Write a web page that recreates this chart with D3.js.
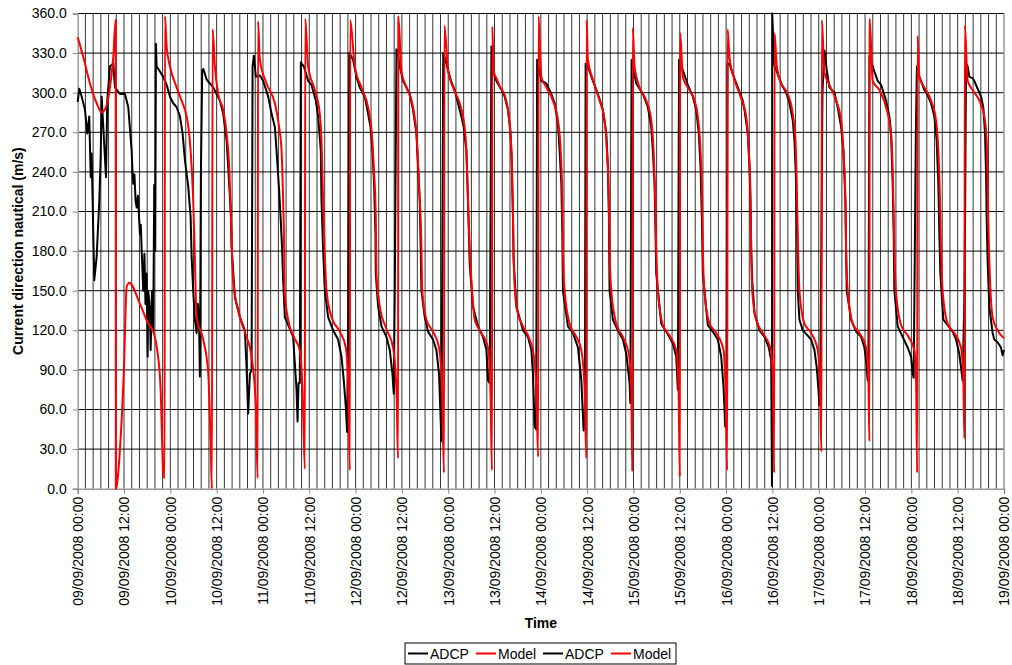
<!DOCTYPE html>
<html lang="en">
<head>
<meta charset="UTF-8">
<title>Current direction: ADCP vs Model</title>
<script src="https://d3js.org/d3.v7.min.js"></script>
<style>
  body { margin: 0; background: #fff; }
  svg { display: block; font-family: "Liberation Sans", Arial, sans-serif; }
  .axis text { font-size: 14px; fill: #000; }
</style>
</head>
<body>
<svg id="chart" width="1012" height="665"></svg>
<script>
// time is given in hours after 09/09/2008 00:00
const startDay = Date.UTC(2008, 8, 9);
const spanHours = 240;
const yTicks = d3.range(0, 361, 30);
const seriesNames = ["ADCP", "Model", "ADCP", "Model"];
const seriesColors = ["#000000", "#ff0000", "#000000", "#ff0000"];

// ADCP measured direction [hour, degrees]
const adcp = [[0,293],[0.41,303],[1.04,297],[1.89,287],[2.49,269],[3.00,282],[3.37,236],[3.62,254],[4.04,193],[4.30,158],[4.92,176],[5.59,218],[5.95,251],[6.21,297],[6.81,264],[7.33,236],[7.66,294],[8.36,320],[9.22,322],[9.66,304],[10.95,299],[12.25,299],[13.10,289],[13.98,256],[14.20,240],[14.39,231],[14.70,238],[15.00,218],[15.28,213],[15.60,222],[16.13,193],[16.35,200],[16.57,181],[16.98,150],[17.29,178],[17.55,140],[17.86,163],[18.12,100],[18.28,150],[18.72,135],[18.90,105],[19.24,150],[19.57,120],[19.83,230],[20.09,180],[20.27,337],[20.45,320],[21.31,316],[22.16,312],[23.04,306],[23.90,297],[24.75,292],[25.63,289],[26.49,282],[27.18,269],[27.78,249],[28.63,229],[29.26,206],[29.51,176],[29.93,150],[30.37,128],[30.81,118],[31.14,140],[31.48,120],[31.66,85],[31.92,239],[32.26,317],[32.57,318],[33.40,310],[35.11,304],[35.99,299],[36.84,294],[37.70,284],[38.58,264],[38.99,244],[39.69,208],[39.87,183],[40.73,145],[42.02,130],[43.31,120],[43.75,92],[44.17,57],[44.61,87],[45.05,90],[45.31,320],[45.65,328],[46.16,312],[47.20,313],[48.05,309],[49.35,297],[50.23,284],[51.08,274],[51.52,256],[52.19,226],[52.56,206],[52.97,181],[53.23,158],[53.67,130],[54.96,121],[55.82,115],[56.26,95],[56.70,75],[56.96,51],[57.22,80],[57.55,80],[57.81,323],[57.99,322],[58.59,320],[59.70,309],[60.58,306],[61.70,294],[62.29,282],[62.99,256],[63.17,218],[63.59,181],[64.03,150],[64.88,130],[66.18,120],[67.47,113],[68.35,100],[68.94,82],[69.46,62],[69.80,43],[70.06,120],[70.37,330],[71.35,325],[72.23,312],[73.09,304],[74.38,297],[75.24,284],[75.86,274],[76.38,256],[76.79,231],[77.15,193],[77.23,163],[77.83,138],[78.71,123],[80.00,115],[80.86,105],[81.55,87],[81.89,72],[82.15,150],[82.59,333],[82.75,332],[83.44,320],[84.30,309],[85.18,304],[86.03,299],[86.89,287],[87.77,269],[88.18,244],[88.62,218],[88.88,181],[89.06,150],[89.92,130],[90.77,119],[92.06,113],[92.94,105],[93.62,87],[94.24,36],[94.71,330],[95.54,322],[95.95,317],[96.83,308],[97.68,302],[98.54,292],[99.42,282],[100.01,274],[100.71,256],[101.13,218],[101.57,170],[102.42,138],[103.72,123],[105.01,115],[105.90,105],[106.31,82],[106.75,80],[107.19,335],[107.53,318],[108.04,312],[108.82,307],[109.85,302],[110.63,297],[111.48,287],[112.10,272],[112.44,250],[112.78,206],[112.96,173],[113.66,138],[115.37,120],[116.66,115],[117.54,105],[117.95,87],[118.39,47],[118.78,45],[119.04,325],[120.13,309],[121.42,307],[122.72,299],[123.57,292],[124.43,277],[124.87,256],[125.31,231],[125.57,193],[125.72,150],[127.02,123],[128.31,118],[129.61,107],[130.49,82],[131.08,44],[131.42,60],[131.60,322],[132.19,320],[133.49,309],[134.78,299],[136.08,287],[136.96,269],[137.37,244],[137.63,206],[137.81,150],[138.67,128],[139.96,120],[141.26,113],[142.14,102],[143.00,80],[143.18,65],[143.51,325],[144.73,307],[146.44,299],[147.73,289],[148.61,274],[149.02,256],[149.46,231],[149.72,193],[149.90,163],[151.20,125],[152.49,119],[154.21,110],[155.08,100],[155.50,75],[155.81,325],[156.79,317],[158.08,306],[159.38,297],[160.26,287],[160.93,269],[161.37,244],[161.71,206],[161.97,163],[163.26,124],[164.56,119],[165.85,113],[166.73,100],[167.33,77],[167.77,47],[168.10,60],[168.36,322],[168.88,322],[169.73,314],[171.03,304],[172.32,294],[172.76,287],[173.62,269],[174.06,244],[174.32,218],[174.50,181],[174.76,158],[175.35,133],[176.65,120],[177.94,115],[179.06,107],[179.68,97],[179.88,2],[179.94,360],[180.53,320],[181.13,316],[182.27,307],[183.57,300],[184.42,292],[185.27,279],[185.71,264],[186.15,231],[186.41,193],[186.56,150],[187.00,128],[187.86,120],[189.15,116],[190.03,113],[190.89,105],[191.48,92],[191.92,75],[192.18,63],[192.44,90],[192.96,300],[193.48,332],[194.08,317],[194.77,304],[196.07,300],[196.92,289],[197.80,274],[198.39,256],[198.91,218],[199.09,181],[199.25,150],[200.39,128],[201.68,119],[202.98,115],[203.83,107],[204.27,97],[204.68,82],[204.87,90],[205.13,328],[205.98,320],[206.42,316],[207.28,309],[208.16,306],[209.45,294],[210.31,282],[210.75,269],[211.16,231],[211.42,193],[211.60,150],[212.45,123],[213.75,115],[215.04,107],[215.92,100],[216.34,87],[216.60,84],[217.17,271],[217.43,320],[218.07,312],[218.51,309],[219.37,302],[220.22,298],[221.10,292],[221.95,282],[222.55,264],[222.99,231],[223.25,193],[223.51,163],[224.29,128],[225.40,124],[226.70,119],[227.58,113],[228.43,102],[228.87,92],[229.28,82],[229.72,143],[229.93,210],[230.16,322],[230.58,320],[231.02,312],[231.87,311],[232.31,309],[233.17,303],[234.05,297],[234.64,289],[235.09,269],[235.35,239],[235.50,206],[235.75,173],[236.19,138],[237.05,118],[237.49,113],[238.34,111],[239.22,107],[239.63,101],[240,105]];

// model direction [hour, degrees]
const model = [[0,342],[1.45,327],[3.18,307],[4.92,292],[6.21,285],[7.33,289],[8.36,304],[9.22,327],[9.84,355],[9.88,0],[10.10,2],[10.95,30],[11.99,92],[12.69,153],[13.36,156],[16.13,140],[18.28,125],[19.57,119],[20.61,105],[21.49,75],[22.16,12],[22.52,8],[22.60,358],[23.04,335],[23.90,320],[25.63,304],[26.93,294],[28.22,282],[28.89,269],[29.51,244],[29.93,218],[30.24,188],[30.81,130],[32.52,113],[33.81,88],[34.43,37],[34.77,0],[34.95,348],[35.55,320],[36.40,299],[37.70,287],[38.58,269],[39.25,244],[39.69,206],[40.28,158],[42.02,130],[43.75,115],[45.05,100],[46.16,62],[46.62,8],[46.72,354],[47.20,325],[48.93,307],[51.08,292],[52.19,274],[52.82,256],[53.23,218],[53.49,181],[53.60,150],[54.52,128],[55.82,116],[57.55,105],[58.25,75],[58.85,15],[58.95,356],[59.70,320],[61.44,302],[62.73,284],[63.17,264],[63.59,218],[64.03,177],[64.47,150],[65.76,130],[67.91,119],[69.46,107],[70.06,82],[70.50,14],[70.60,355],[71.79,320],[73.53,304],[75.24,289],[76.12,272],[76.71,244],[77.23,206],[77.41,163],[78.27,138],[80.00,121],[81.71,107],[82.59,75],[83.00,23],[83.08,358],[83.88,316],[85.18,304],[86.89,289],[87.77,269],[88.44,231],[89.06,183],[89.27,150],[90.36,128],[92.06,119],[93.62,107],[94.40,75],[94.91,12],[95.00,351],[95.95,317],[97.24,304],[98.98,292],[100.01,279],[100.71,256],[101.13,218],[101.57,181],[102.01,158],[102.86,128],[104.60,118],[106.31,107],[106.93,75],[107.34,14],[107.42,350],[107.78,316],[108.48,311],[109.33,305],[110.63,298],[111.48,287],[112.10,269],[112.52,244],[112.78,206],[112.91,178],[113.66,138],[115.37,123],[117.10,113],[118.21,100],[118.83,75],[119.30,24],[119.40,358],[120.13,312],[121.42,304],[123.13,294],[124.43,279],[125.13,256],[125.57,218],[125.72,181],[126.16,150],[127.46,125],[129.19,115],[130.49,105],[131.34,75],[131.78,23],[131.85,355],[132.19,325],[133.49,310],[135.22,294],[136.52,279],[137.11,256],[137.63,218],[137.81,181],[138.25,150],[139.55,125],[141.26,115],[142.81,102],[143.43,75],[143.69,13],[143.80,349],[144.28,320],[145.58,304],[147.31,294],[148.61,279],[149.20,256],[149.64,218],[149.90,181],[150.32,150],[151.61,124],[153.35,116],[155.08,105],[155.68,75],[156.01,9],[156.10,345],[156.79,312],[158.08,304],[159.82,294],[160.67,282],[161.37,256],[161.81,218],[161.97,181],[162.41,148],[163.70,125],[165.44,118],[167.33,105],[167.85,75],[168.28,14],[168.38,348],[168.88,327],[170.17,310],[171.73,297],[173.20,282],[173.88,256],[174.24,231],[174.50,181],[174.76,150],[175.79,128],[177.50,118],[179.42,107],[180.09,87],[180.45,12],[180.55,345],[181.13,320],[182.27,307],[183.97,299],[185.27,284],[185.97,264],[186.30,231],[186.56,193],[187.00,150],[188.30,125],[190.03,118],[191.74,105],[192.36,75],[192.70,28],[192.80,355],[193.48,315],[194.77,306],[196.50,294],[197.80,279],[198.39,256],[198.91,218],[199.09,181],[199.51,150],[200.80,125],[202.54,118],[204.27,107],[204.87,82],[205.13,36],[205.20,356],[205.98,309],[207.72,302],[209.45,289],[210.49,274],[211.00,256],[211.34,218],[211.60,181],[212.04,148],[213.33,124],[215.04,116],[216.78,105],[217.22,82],[217.50,12],[217.60,343],[218.07,312],[219.37,304],[221.10,294],[222.39,279],[222.99,256],[223.43,218],[223.69,181],[224.10,150],[225.40,125],[227.13,118],[228.87,107],[229.46,82],[229.75,38],[229.85,351],[230.58,309],[231.87,302],[233.61,294],[234.90,282],[235.50,264],[235.75,231],[236.01,193],[236.38,158],[237.05,130],[238.34,120],[240,114]];

const svg = d3.select("#chart");
const plot = { left: 77.7, right: 1004, top: 13.5, bottom: 488.7 };

const toDate = h => new Date(startDay + h * 3600e3);
const x = d3.scaleUtc()
    .domain([toDate(0), toDate(spanHours)])
    .range([plot.left, plot.right]);
const y = d3.scaleLinear()
    .domain([0, 360])
    .range([plot.bottom, plot.top]);

svg.append("rect").attr("width", 1012).attr("height", 665).attr("fill", "#fff");

// gridlines: every 2 hours vertically, every 30 deg horizontally
const grid = svg.append("g");
grid.selectAll(".vgrid")
    .data(d3.utcHour.every(2).range(toDate(2), toDate(spanHours)))
    .enter().append("line")
    .attr("x1", d => x(d)).attr("x2", d => x(d))
    .attr("y1", plot.top).attr("y2", plot.bottom)
    .attr("stroke", "#000").attr("stroke-width", 0.8);
grid.selectAll(".hgrid")
    .data(yTicks.filter(d => d > 0))
    .enter().append("line")
    .attr("x1", plot.left).attr("x2", plot.right)
    .attr("y1", d => y(d)).attr("y2", d => y(d))
    .attr("stroke", "#000").attr("stroke-width", 1);
// right border
svg.append("line")
    .attr("x1", plot.right).attr("x2", plot.right)
    .attr("y1", plot.top).attr("y2", plot.bottom)
    .attr("stroke", "#999").attr("stroke-width", 1.5);

// axes
const yAxis = svg.append("g")
    .attr("class", "axis")
    .attr("transform", `translate(${plot.left},0)`)
    .call(d3.axisLeft(y).tickValues(yTicks).tickFormat(d3.format(".1f")).tickSize(5).tickPadding(6));

const xAxis = svg.append("g")
    .attr("class", "axis")
    .attr("transform", `translate(0,${plot.bottom})`)
    .call(d3.axisBottom(x)
        .tickValues(d3.utcHour.every(12).range(toDate(0), toDate(spanHours + 1)))
        .tickFormat(d3.utcFormat("%d/%m/%Y %H:%M"))
        .tickSize(5));
xAxis.selectAll("text")
    .attr("x", -8).attr("y", 0).attr("dy", "0.35em")
    .attr("transform", "rotate(-90)")
    .style("text-anchor", "end");

svg.selectAll(".axis path").attr("stroke", "#999").attr("stroke-width", 1.5);
svg.selectAll(".axis line").attr("stroke", "#888");
svg.selectAll(".axis text").attr("fill", "#000").style("font-size", "14px");

// series lines
const line = d3.line()
    .x(d => x(toDate(d[0])))
    .y(d => y(d[1]));

svg.append("path")
    .datum(adcp)
    .attr("fill", "none")
    .attr("stroke", seriesColors[0])
    .attr("stroke-width", 2)
    .attr("stroke-linejoin", "round")
    .attr("d", line.curve(d3.curveLinear));

svg.append("path")
    .datum(model)
    .attr("fill", "none")
    .attr("stroke", seriesColors[1])
    .attr("stroke-width", 2)
    .attr("stroke-linejoin", "round")
    .attr("d", line.curve(d3.curveMonotoneX));

// titles
svg.append("text")
    .attr("transform", `translate(23,${(plot.top + plot.bottom) / 2}) rotate(-90)`)
    .attr("text-anchor", "middle")
    .style("font-size", "14px").style("font-weight", "bold")
    .text("Current direction nautical (m/s)");

svg.append("text")
    .attr("x", (plot.left + plot.right) / 2).attr("y", 628)
    .attr("text-anchor", "middle")
    .style("font-size", "14px").style("font-weight", "bold")
    .text("Time");

// legend
const legend = svg.append("g").attr("transform", "translate(405,643)");
legend.append("rect")
    .attr("width", 271).attr("height", 21)
    .attr("fill", "#fff").attr("stroke", "#000").attr("stroke-width", 1);
const itemX = [3, 71, 138, 206];
const item = legend.selectAll(".item")
    .data(seriesNames)
    .enter().append("g")
    .attr("transform", (d, i) => `translate(${itemX[i]},0)`);
item.append("line")
    .attr("x1", 0).attr("x2", 20)
    .attr("y1", 10.5).attr("y2", 10.5)
    .attr("stroke", (d, i) => seriesColors[i]).attr("stroke-width", 2);
item.append("text")
    .attr("x", 22).attr("y", 15.5)
    .style("font-size", "14px")
    .text(d => d);
</script>
</body>
</html>
